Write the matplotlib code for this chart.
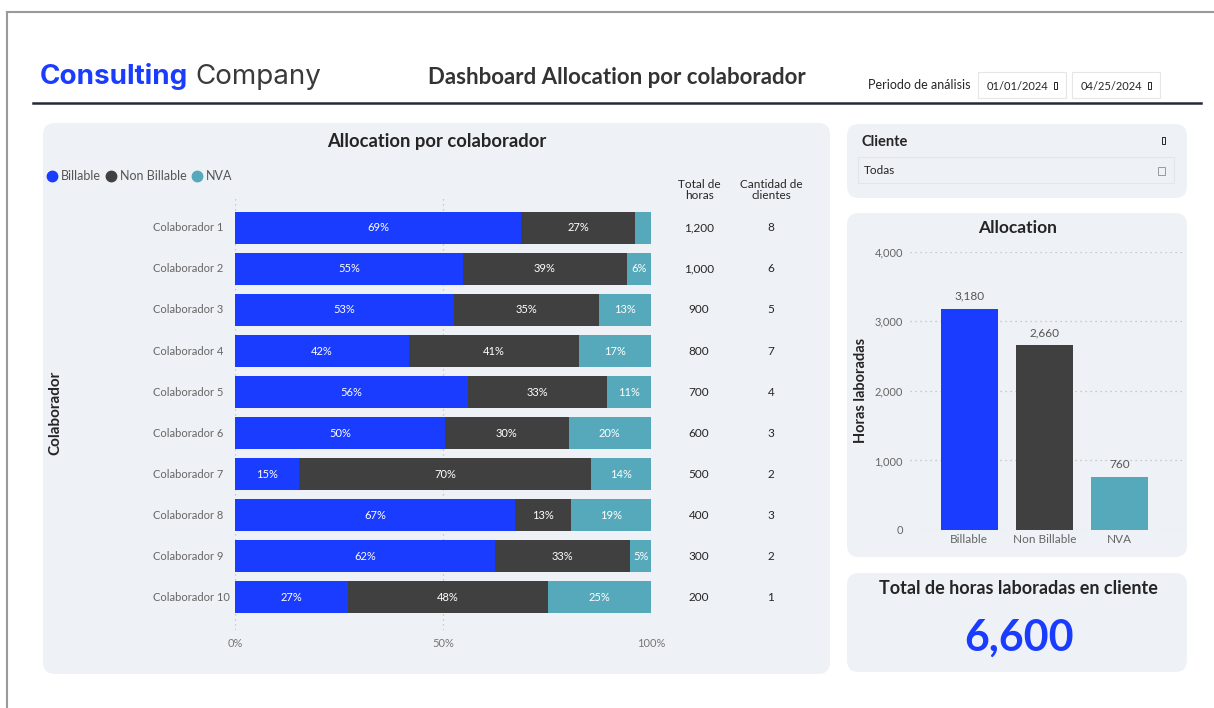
import matplotlib.pyplot as plt
from matplotlib.patches import FancyBboxPatch, Rectangle
import numpy as np

plt.rcParams['font.family'] = ['Lato', 'DejaVu Sans']

# ---- data ----
colaboradores = ['Colaborador %d' % i for i in range(1, 11)]
billable = [68.8, 54.8, 52.6, 41.8, 56.0, 50.4, 15.4, 67.3, 62.4, 27.2]
non_billable = [27.4, 39.4, 34.8, 40.9, 33.4, 29.8, 70.2, 13.4, 32.6, 48.0]
nva = [3.8, 5.8, 12.6, 17.3, 10.6, 19.8, 14.4, 19.3, 5.0, 24.8]
total_horas = [1200, 1000, 900, 800, 700, 600, 500, 400, 300, 200]
cant_clientes = [8, 6, 5, 7, 4, 3, 2, 3, 2, 1]

alloc_cats = ['Billable', 'Non Billable', 'NVA']
alloc_vals = [3180, 2660, 760]
total_lab = 6600

BLUE = '#1a3cff'
DARK = '#404040'
TEAL = '#56a9bb'
PANEL = '#eef1f5'
TXT = '#252525'
GREY = '#666666'

W, H = 1214, 708
fig = plt.figure(figsize=(W / 100, H / 100), dpi=100)
fig.patch.set_facecolor('white')


def px_axes(x, y, w, h):
    return fig.add_axes([x / W, 1 - (y + h) / H, w / W, h / H])


# background canvas in pixel coordinates
bg = fig.add_axes([0, 0, 1, 1])
bg.set_xlim(0, W)
bg.set_ylim(H, 0)
bg.axis('off')
fig.canvas.draw()
renderer = fig.canvas.get_renderer()

# outer frame
bg.plot([7, W + 5], [12, 12], color='#9a9a9a', lw=1.5)
bg.plot([7, 7], [12, H + 5], color='#9a9a9a', lw=1.5)

# header
t = bg.text(40, 84, 'Consulting', color=BLUE, fontsize=20, fontweight='bold',
            family='Inter', va='baseline')
tw = t.get_window_extent(renderer).width
bg.text(40 + tw + 7, 84, 'Company', color='#3a3a3a', fontsize=20,
        family='Inter', va='baseline')
bg.text(617, 77, 'Dashboard Allocation por colaborador', color='#333333',
        fontsize=16, fontweight='bold', ha='center', va='center')
bg.plot([33, 1201], [103, 103], color='#252a3a', lw=1.8)

bg.text(970, 85, 'Periodo de análisis', fontsize=9, color=TXT,
        ha='right', va='center')
for bx, label in [(978, '01/01/2024'), (1072, '04/25/2024')]:
    bg.add_patch(Rectangle((bx, 72), 88, 26, facecolor='white',
                           edgecolor='#e6e6e6', lw=0.8))
    bg.text(bx + 9, 86, label, fontsize=8, color=TXT, va='center')
    bg.add_patch(Rectangle((bx + 76, 82), 3, 7, facecolor='none',
                           edgecolor=TXT, lw=0.7))

# panels
for (x, y, w, h) in [(43, 123, 787, 551), (847, 124, 340, 74),
                     (847, 213, 340, 344), (847, 573, 340, 99)]:
    bg.add_patch(FancyBboxPatch((x, y), w, h,
                                boxstyle='round,pad=0,rounding_size=12',
                                facecolor=PANEL, edgecolor='none'))

# ---- left panel: stacked bars ----
bg.text(437, 141, 'Allocation por colaborador', fontsize=13.2,
        fontweight='bold', color=TXT, ha='center', va='center')

lx = 52
for name, col in [('Billable', BLUE), ('Non Billable', DARK), ('NVA', TEAL)]:
    bg.plot(lx, 175.5, 'o', ms=7.5, color=col)
    t = bg.text(lx + 9, 175.5, name, fontsize=9, color='#555555',
                va='center')
    bb = t.get_window_extent(renderer)
    lx = lx + 9 + bb.width + 10

bg.text(55, 413, 'Colaborador', fontsize=11, fontweight='bold', color=TXT,
        rotation=90, ha='center', va='center')
bg.text(699, 190, 'Total de\nhoras', fontsize=8.5, color=TXT, ha='center',
        va='center', linespacing=1.1)
bg.text(771, 190, 'Cantidad de\nclientes', fontsize=8.5, color=TXT,
        ha='center', va='center', linespacing=1.1)

ax = px_axes(235, 198, 416, 432)
ax.set_facecolor('none')
y = np.arange(len(colaboradores))
b = np.array(billable)
nb = np.array(non_billable)
nv = np.array(nva)
ax.barh(y, b, height=0.78, color=BLUE, zorder=3)
ax.barh(y, nb, left=b, height=0.78, color=DARK, zorder=3)
ax.barh(y, nv, left=b + nb, height=0.78, color=TEAL, zorder=3)

ytr = ax.get_yaxis_transform()
for i in y:
    lefts = [0, b[i], b[i] + nb[i]]
    for v, l in zip([b[i], nb[i], nv[i]], lefts):
        if v >= 4.5:
            ax.text(l + v / 2, i, '%d%%' % round(v), color='white',
                    fontsize=8, ha='center', va='center', zorder=4)
    # category names are left aligned in front of the bars
    ax.text(-0.197, i, colaboradores[i], fontsize=8, color=GREY,
            ha='left', va='center', transform=ytr, clip_on=False)
    ax.text(1.115, i, '{:,}'.format(total_horas[i]), fontsize=8.5,
            color=TXT, ha='center', va='center', transform=ytr,
            clip_on=False)
    ax.text(1.288, i, str(cant_clientes[i]), fontsize=8.5, color=TXT,
            ha='center', va='center', transform=ytr, clip_on=False)

ax.set_xlim(0, 100)
ax.set_ylim(9.80, -0.73)
ax.set_yticks([])
ax.set_xticks([0, 50, 100])
ax.set_xticklabels(['0%', '50%', '100%'], fontsize=8, color='#777777')
ax.tick_params(axis='both', length=0)
ax.tick_params(axis='x', pad=6)
ax.xaxis.grid(True, linestyle=(0, (1, 3)), color='#bdbdbd', lw=0.9)
ax.set_axisbelow(True)
for s in ax.spines.values():
    s.set_visible(False)

# ---- Cliente slicer ----
bg.text(861, 142, 'Cliente', fontsize=10.5, fontweight='bold', color=TXT,
        va='center')
bg.add_patch(Rectangle((1162, 137), 3, 7, facecolor='none',
                       edgecolor=TXT, lw=0.7))
bg.add_patch(Rectangle((858, 157), 316, 26, facecolor=PANEL,
                       edgecolor='#e2e5e9', lw=0.8))
bg.text(864, 171, 'Todas', fontsize=8.5, color=TXT, va='center')
bg.add_patch(Rectangle((1158, 167), 7, 8, facecolor='none',
                       edgecolor='#9a9a9a', lw=0.7))

# ---- Allocation column chart ----
bg.text(1018, 228, 'Allocation', fontsize=12.5, fontweight='bold',
        color=TXT, ha='center', va='center')
bg.text(861, 390, 'Horas laboradas', fontsize=10.5, fontweight='bold',
        color=TXT, rotation=90, ha='center', va='center')

ax2 = px_axes(910, 251.7, 272, 278.3)
ax2.set_facecolor('none')
xc = np.arange(len(alloc_cats))
bars = ax2.bar(xc, alloc_vals, width=0.76, color=[BLUE, DARK, TEAL],
               zorder=3)
for rect, v in zip(bars, alloc_vals):
    ax2.annotate('{:,}'.format(v), (rect.get_x() + rect.get_width() / 2, v),
                 xytext=(0, 5), textcoords='offset points', ha='center',
                 va='bottom', fontsize=8.5, color='#555555')
ax2.set_xlim(-0.79, 2.83)
ax2.set_ylim(0, 4000)
ax2.set_yticks([0, 1000, 2000, 3000, 4000])
ax2.set_yticklabels(['{:,}'.format(v) for v in [0, 1000, 2000, 3000, 4000]],
                    fontsize=8, color='#666666')
ax2.set_xticks(xc)
ax2.set_xticklabels(alloc_cats, fontsize=8.5, color='#666666')
ax2.tick_params(axis='both', length=0)
ax2.tick_params(axis='y', pad=5)
ax2.tick_params(axis='x', pad=3)
ax2.yaxis.grid(True, linestyle=(0, (1, 3)), color='#bdbdbd', lw=0.9)
ax2.set_axisbelow(True)
for s in ax2.spines.values():
    s.set_visible(False)

# ---- KPI card ----
bg.text(1018, 588, 'Total de horas laboradas en cliente', fontsize=13,
        fontweight='bold', color=TXT, ha='center', va='center')
bg.text(1019, 638, '{:,}'.format(total_lab), fontsize=31, fontweight='bold',
        color=BLUE, ha='center', va='center')

fig.savefig('out.png', dpi=100)
